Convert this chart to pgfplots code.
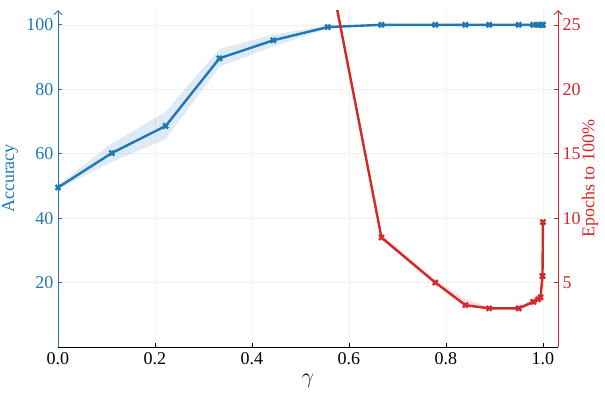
\documentclass[border=0pt]{standalone}
\usepackage{fontspec}
\setmainfont{Liberation Serif}
\usepackage{pgfplots}
\usepackage{pgfplotstable}
\pgfplotsset{compat=1.18}
\usepgfplotslibrary{fillbetween}
\usetikzlibrary{arrows.meta}
\definecolor{tblue}{RGB}{31,119,180}
\definecolor{tred}{RGB}{214,39,40}
\pgfplotstableread{
x mean lo hi
0.000 49.5 49.0 50.2
0.111 60.2 57.5 63.2
0.222 68.6 64.5 73.0
0.333 89.6 87.0 92.5
0.444 95.2 93.3 97.0
0.556 99.3 98.8 99.8
0.667 100 99.9 100
0.778 100 100 100
0.840 100 100 100
0.889 100 100 100
0.950 100 100 100
0.980 100 100 100
0.990 100 100 100
0.995 100 100 100
0.999 100 100 100
1.000 100 100 100
}\acc
\pgfplotstableread{
x mean lo hi
0.556 30.0 29.5 30.5
0.667 8.5 8.3 8.7
0.778 5.0 4.9 5.2
0.840 3.25 3.1 3.7
0.889 3.0 2.95 3.1
0.950 3.0 2.95 3.1
0.980 3.5 3.3 3.8
0.990 3.7 3.5 3.9
0.995 3.85 3.7 4.0
0.999 5.5 5.4 5.6
1.000 9.7 9.6 9.8
}\ep
\begin{document}
\begin{tikzpicture}
\pgfplotsset{
  base/.style={
    scale only axis, width=500pt, height=337pt,
    anchor=south west, at={(0pt,0pt)},
    xmin=0, xmax=1.031, ymin=0,
    tick align=inside, major tick length=4pt,
    tick label style={font=\fontsize{18}{21}\selectfont},
    label style={font=\fontsize{18}{21}\selectfont},
    /pgf/number format/assume math mode=true,
    /pgf/number format/fixed, /pgf/number format/fixed zerofill, /pgf/number format/precision=1,
  }
}
\begin{axis}[base,
  ymax=104.6,
  axis x line*=bottom, axis y line*=left,
  x axis line style={-, black, line width=0.9pt},
  y axis line style={-{Straight Barb[length=4pt,width=8pt]}, tblue, line width=0.9pt},
  xtick={0,0.2,0.4,0.6,0.8,1.0},
  ytick={20,40,60,80,100},
  yticklabel style={text=tblue, /pgf/number format/precision=0, /pgf/number format/fixed zerofill=false},
  ytick style={tblue, line width=0.8pt},
  xtick style={black, line width=0.8pt},
  grid=major, major grid style={gray!10, line width=0.5pt},
  xlabel={\scalebox{1.25}{$\gamma$}},
  xlabel style={at={(axis description cs:0.5,-0.10)}, anchor=center},
  ylabel={Accuracy},
  ylabel style={at={(axis description cs:-0.096,0.5)}, anchor=center, text=tblue},
  yticklabel style={xshift=-1pt},
  xticklabel style={yshift=-2pt},
]
\addplot[name path=ahi, draw=none, forget plot] table[x=x,y=hi]{\acc};
\addplot[name path=alo, draw=none, forget plot] table[x=x,y=lo]{\acc};
\addplot[tblue, fill opacity=0.15, forget plot] fill between[of=ahi and alo];
\addplot[tblue, line width=2.4pt, mark=x, mark size=3.5pt, mark options={line width=2.4pt}] table[x=x,y=mean]{\acc};
\end{axis}
\begin{axis}[base,
  ymax=26.16,
  axis x line=none, axis y line*=right,
  y axis line style={-{Straight Barb[length=4pt,width=8pt]}, tred, line width=0.9pt},
  ytick={5,10,15,20,25},
  yticklabel style={text=tred, /pgf/number format/precision=0, /pgf/number format/fixed zerofill=false, xshift=1pt},
  ytick style={tred, line width=0.8pt},
  ylabel={Epochs to 100\%},
  ylabel style={at={(axis description cs:1.064,0.5)}, anchor=center, text=tred, rotate=0},
  clip=true,
]
\addplot[name path=ehi, draw=none, forget plot] table[x=x,y=hi]{\ep};
\addplot[name path=elo, draw=none, forget plot] table[x=x,y=lo]{\ep};
\addplot[tred, fill opacity=0.15, forget plot] fill between[of=ehi and elo];
\addplot[tred, line width=2.4pt, mark=x, mark size=3.5pt, mark options={line width=2.4pt}] table[x=x,y=mean]{\ep};
\end{axis}
\pgfresetboundingbox
\path[use as bounding box] (-58pt,-45pt) rectangle (547pt,347pt);
\end{tikzpicture}
\end{document}
